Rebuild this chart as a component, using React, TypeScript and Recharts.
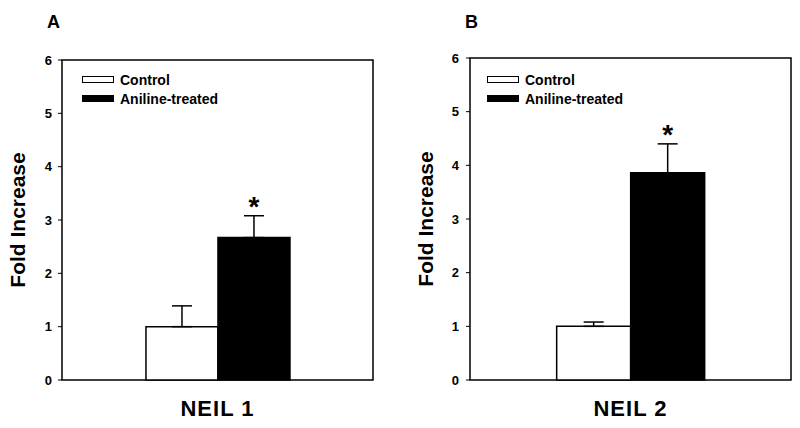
import React from 'react';
import { Bar, BarChart, ErrorBar, LabelList, Legend, ReferenceArea, XAxis, YAxis } from 'recharts';

// values
const panelLabels = ['A', 'B'];
const genes = ['NEIL 1', 'NEIL 2'];
const seriesNames = ['Control', 'Aniline-treated'];
const controlMean = [1.0, 1.0];
const controlErr = [0.39, 0.08];
const treatedMean = [2.67, 3.86];
const treatedErr = [0.41, 0.54];
const significance = ['*', '*'];
const yTicks = [0, 1, 2, 3, 4, 5, 6];

const FONT = 'Arial, "Liberation Sans", Helvetica, sans-serif';

// per-panel geometry
const layouts = [
    { left: 0, axisWidth: 62, top: 60, right: 27, tickMargin: 6, titleX: 47, yTitleX: 17.5, legendX: 82 },
    { left: 400, axisWidth: 70, top: 58, right: 9, tickMargin: 7, titleX: 465, yTitleX: 25, legendX: 87 },
];

const LegendBox = ({ payload }: any) => {
    const items = [...(payload || [])].sort(
        (a: any, b: any) => seriesNames.indexOf(a.value) - seriesNames.indexOf(b.value),
    );
    return (
        <div style={{ fontFamily: FONT, fontSize: 14, fontWeight: 'bold', color: '#000' }}>
            {items.map((entry: any) => (
                <div key={entry.value} style={{ display: 'flex', alignItems: 'center', height: 19 }}>
                    <span
                        style={{
                            display: 'inline-block',
                            boxSizing: 'border-box',
                            width: 32,
                            height: 7,
                            background: entry.color,
                            border: '1.5px solid #000',
                            marginRight: 6,
                        }}
                    />
                    <span>{entry.value}</span>
                </div>
            ))}
        </div>
    );
};

const YTitle = ({ viewBox, offsetX }: any) => {
    const cx = viewBox.x + offsetX;
    const cy = viewBox.y + viewBox.height / 2;
    return (
        <text
            x={cx}
            y={cy}
            transform={`rotate(-90 ${cx} ${cy})`}
            textAnchor="middle"
            dominantBaseline="central"
            fontFamily={FONT}
            fontSize={21}
            fontWeight="bold"
            fill="#000"
        >
            Fold Increase
        </text>
    );
};

const Panel = ({ index }: { index: number }) => {
    const lay = layouts[index];
    const data = [
        {
            gene: genes[index],
            control: controlMean[index],
            controlErr: [0, controlErr[index]],
            treated: treatedMean[index],
            treatedErr: [0, treatedErr[index]],
            sig: significance[index],
        },
    ];

    // asterisk sits just above the top of the error bar
    const renderSig = (p: any) => {
        const row = data[p.index];
        const x = Number(p.x);
        const y = Number(p.y);
        const w = Number(p.width);
        const h = Number(p.height);
        const pxPerUnit = h / row.treated;
        const errTop = y - row.treatedErr[1] * pxPerUnit;
        return (
            <text x={x + w / 2} y={errTop} textAnchor="middle" fontFamily={FONT} fontSize={28} fontWeight="bold" fill="#000">
                {row.sig}
            </text>
        );
    };

    return (
        <div style={{ position: 'absolute', left: lay.left, top: 0 }}>
            <BarChart
                width={400}
                height={428}
                data={data}
                margin={{ top: lay.top, right: lay.right, bottom: 0, left: 0 }}
                barCategoryGap="27%"
                barGap={0}
            >
                <XAxis
                    dataKey="gene"
                    height={48}
                    axisLine={false}
                    tickLine={false}
                    tickSize={0}
                    tickMargin={20}
                    tick={{ fontSize: 22, fontWeight: 'bold', fill: '#000', fontFamily: FONT, letterSpacing: 1 }}
                />
                <YAxis
                    type="number"
                    domain={[0, 6]}
                    ticks={yTicks}
                    width={lay.axisWidth}
                    axisLine={false}
                    tickLine={{ stroke: '#000', strokeWidth: 1 }}
                    tickSize={4}
                    tickMargin={lay.tickMargin}
                    tick={{ fontSize: 13, fontWeight: 'bold', fill: '#000', fontFamily: FONT }}
                    label={{ content: (props: any) => <YTitle {...props} offsetX={lay.yTitleX} /> }}
                />
                <Legend
                    content={LegendBox}
                    layout="vertical"
                    align="center"
                    verticalAlign="middle"
                    wrapperStyle={{ top: 70, left: lay.legendX, width: 'auto', height: 'auto' }}
                />
                <Bar dataKey="control" name={seriesNames[0]} fill="#ffffff" stroke="#000" strokeWidth={1.5} isAnimationActive={false}>
                    <ErrorBar dataKey="controlErr" width={10} stroke="#000" strokeWidth={1.5} direction="y" />
                </Bar>
                <Bar dataKey="treated" name={seriesNames[1]} fill="#000" stroke="#000" strokeWidth={1.5} isAnimationActive={false}>
                    <ErrorBar dataKey="treatedErr" width={10} stroke="#000" strokeWidth={1.5} direction="y" />
                    <LabelList dataKey="sig" content={renderSig} />
                </Bar>
                <ReferenceArea y1={0} y2={6} fill="none" stroke="#000" strokeWidth={1.5} ifOverflow="visible" />
            </BarChart>
        </div>
    );
};

const App = () => (
    <div style={{ position: 'absolute', left: 0, top: 0, width: 800, height: 428, background: '#fff' }}>
        {panelLabels.map((label, i) => (
            <div
                key={label}
                style={{
                    position: 'absolute',
                    left: layouts[i].titleX,
                    top: 13,
                    fontFamily: FONT,
                    fontSize: 18,
                    fontWeight: 'bold',
                    lineHeight: '18px',
                    color: '#000',
                }}
            >
                {label}
            </div>
        ))}
        <Panel index={0} />
        <Panel index={1} />
    </div>
);

export default App;
